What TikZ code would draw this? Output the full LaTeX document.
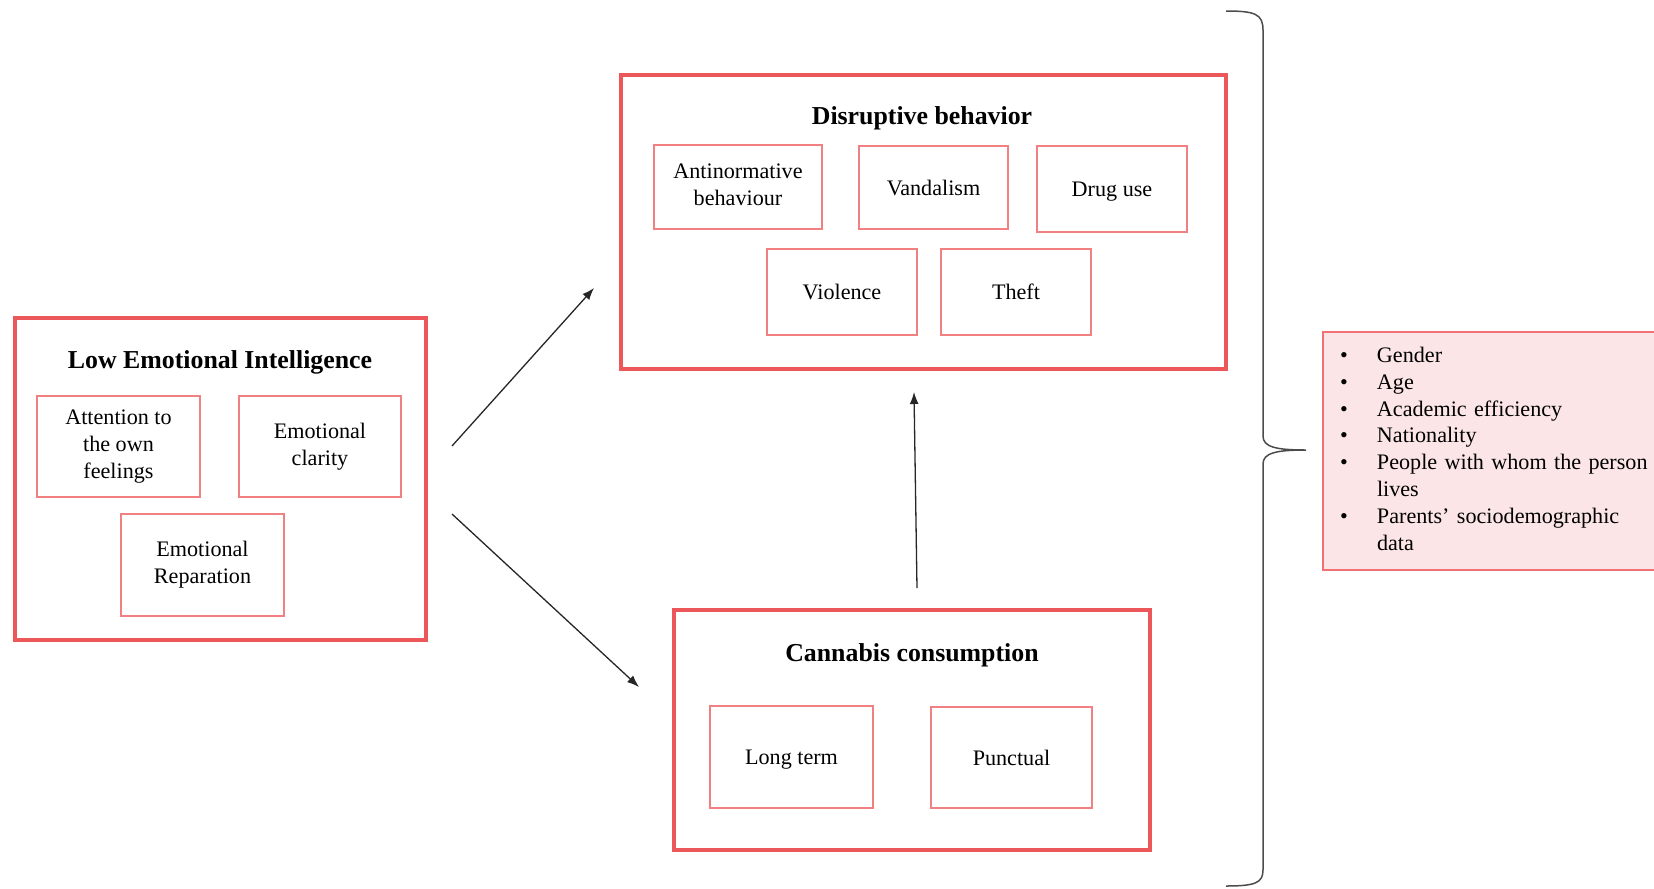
\documentclass[tikz,border=0pt]{standalone}
\usepackage{fontspec}
\setmainfont{Liberation Serif}
\usetikzlibrary{arrows.meta}

\definecolor{boxRed}{RGB}{236,88,90}
\definecolor{lineRed}{RGB}{240,128,130}
\definecolor{covPink}{RGB}{251,229,230}

\newcommand{\topStrut}{\rule{0pt}{11.6pt}}
\newcommand{\botStrut}{\rule[-3pt]{0pt}{3pt}}

\tikzstyle{groupBox}=[shape=rectangle,draw=boxRed,line width=0.8mm]
\tikzstyle{itemBox}=[shape=rectangle,draw=lineRed,line width=0.3mm,align=center,inner sep=0pt,font=\fontsize{12.6}{15.3}\selectfont,execute at begin node=\topStrut,execute at end node=\botStrut]
\tikzstyle{groupTitle}=[inner sep=0pt,font=\fontsize{14.7}{17}\selectfont\bfseries]
\tikzstyle{covBox}=[shape=rectangle,draw=boxRed!85,fill=covPink,line width=0.25mm,inner xsep=3.4mm,text width=60.6mm,minimum height=47.6mm,font=\fontsize{12.6}{15.3}\selectfont]
\tikzstyle{link}=[->,line width=0.26mm,draw=black!85]

\begin{document}
\begin{tikzpicture}[x=0.2mm,y=-0.2mm,>={Latex[length=2.4mm,width=1.8mm]}]
        \useasboundingbox (0,0) rectangle (1654,888);

        % emotional intelligence
        \node[groupBox,minimum width=82.2mm,minimum height=64.4mm] (lei) at (220.5,479) {};
        \node[groupTitle] (leiT) at (220,362) {Low Emotional Intelligence};
        \node[itemBox,minimum width=32.6mm,minimum height=20.2mm] (att) at (118.5,446.5) {Attention to\\the own\\feelings};
        \node[itemBox,minimum width=32.4mm,minimum height=20.2mm] (cla) at (320,446.5) {Emotional\\clarity};
        \node[itemBox,minimum width=32.6mm,minimum height=20.4mm] (rep) at (202.5,565) {Emotional\\Reparation};

        % disruptive behavior
        \node[groupBox,minimum width=121mm,minimum height=58.8mm] (dis) at (923.5,222) {};
        \node[groupTitle] (disT) at (922,118) {Disruptive behavior};
        \node[itemBox,minimum width=33.6mm,minimum height=16.8mm] (ant) at (738,187) {Antinormative\\behaviour};
        \node[itemBox,minimum width=29.8mm,minimum height=16.6mm] (van) at (933.5,187.5) {Vandalism};
        \node[itemBox,minimum width=30mm,minimum height=17.2mm] (dru) at (1112,189) {Drug use};
        \node[itemBox,minimum width=30mm,minimum height=17.2mm] (vio) at (842,292) {Violence};
        \node[itemBox,minimum width=30mm,minimum height=17.2mm] (the) at (1016,292) {Theft};

        % cannabis
        \node[groupBox,minimum width=95.2mm,minimum height=48mm] (can) at (912,730) {};
        \node[groupTitle] (canT) at (912,655) {Cannabis consumption};
        \node[itemBox,minimum width=32.6mm,minimum height=20.4mm] (lon) at (791.5,757) {Long term};
        \node[itemBox,minimum width=32.2mm,minimum height=20.2mm] (pun) at (1011.5,757.5) {Punctual};

        % covariates
        \node[covBox] (cov) at (1491.5,451) {%
            \begin{tabular}{@{}p{7.4mm}@{}l@{}}
            \textbullet & Gender\\
            \textbullet & Age\\
            \textbullet & Academic efficiency\\
            \textbullet & Nationality\\
            \textbullet & People with whom the person\\
                        & lives\\
            \textbullet & Parents’ sociodemographic\\
                        & data
            \end{tabular}};

        \coordinate (brTop) at (1226,11);
        \coordinate (brTip) at (1306,450);
        \coordinate (brBot) at (1226,886);
        \draw[line width=0.3mm,draw=black!70] (brTop) .. controls (1255,11) and (1263,14) .. (1263,30)
            -- (1263,436) .. controls (1263,447) and (1276,450) .. (brTip)
            .. controls (1276,450) and (1263,453) .. (1263,464)
            -- (1263,870) .. controls (1263,883) and (1255,886) .. (brBot);

        \coordinate (a1) at (452,446);
        \coordinate (b1) at (594,288);
        \coordinate (a2) at (452,514);
        \coordinate (b2) at (639,687);
        \coordinate (a3) at (917,588);
        \coordinate (b3) at (914,392);

        \draw [link] (a1) to (b1);
        \draw [link] (a2) to (b2);
        \draw [link] (a3) to (b3);
\end{tikzpicture}
\end{document}
